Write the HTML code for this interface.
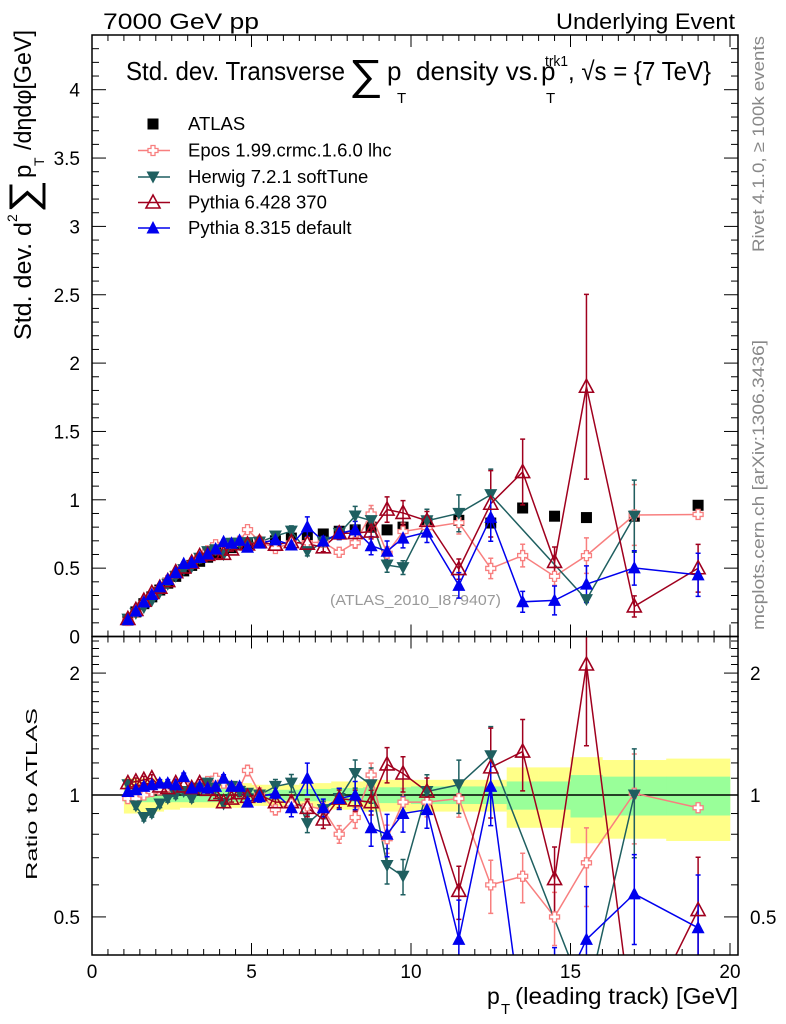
<!DOCTYPE html>
<html><head><meta charset="utf-8"><style>
html,body{margin:0;padding:0;background:#fff;width:786px;height:1024px;overflow:hidden;}
svg{display:block;font-family:"Liberation Sans",Arial,sans-serif;}
</style></head><body>
<svg id="c" width="786" height="1024" viewBox="0 0 786 1024" xmlns="http://www.w3.org/2000/svg">
<defs>
<clipPath id="clipMain"><rect x="92" y="35" width="646" height="601"/></clipPath>
<clipPath id="clipRatio"><rect x="92" y="636" width="646" height="319"/></clipPath>
</defs>
<text x="103" y="29" font-size="22" textLength="156" lengthAdjust="spacingAndGlyphs">7000 GeV pp</text>
<text x="556" y="29" font-size="22" textLength="179" lengthAdjust="spacingAndGlyphs">Underlying Event</text>
<g font-size="26">
<text x="126" y="80" textLength="219" lengthAdjust="spacingAndGlyphs">Std. dev. Transverse</text>
<text x="349" y="89" font-size="42" textLength="34" lengthAdjust="spacingAndGlyphs">∑</text>
<text x="387" y="80">p</text>
<text x="397" y="103" font-size="15">T</text>
<text x="416" y="80" textLength="123" lengthAdjust="spacingAndGlyphs">density vs.</text>
<text x="541" y="80">p</text>
<text x="546" y="103" font-size="15">T</text>
<text x="545" y="66" font-size="15" textLength="23" lengthAdjust="spacingAndGlyphs">trk1</text>
<text x="568" y="80" textLength="143" lengthAdjust="spacingAndGlyphs">, √s = {7 TeV}</text>
</g>
<g font-size="24">
<text transform="translate(31,340) rotate(-90)" textLength="118" lengthAdjust="spacingAndGlyphs">Std. dev. d</text>
<text transform="translate(17,222) rotate(-90)" font-size="14">2</text>
<text transform="translate(37,213) rotate(-90)" font-size="40" textLength="33" lengthAdjust="spacingAndGlyphs">∑</text>
<text transform="translate(31,178) rotate(-90)">p</text>
<text transform="translate(44,166) rotate(-90)" font-size="14">T</text>
<text transform="translate(31,150) rotate(-90)" textLength="120" lengthAdjust="spacingAndGlyphs">/dηdφ[GeV]</text>
</g>
<text transform="translate(37,880) rotate(-90)" font-size="16" textLength="172" lengthAdjust="spacingAndGlyphs">Ratio to ATLAS</text>
<text transform="translate(764,252) rotate(-90)" font-size="17" fill="#888" textLength="216" lengthAdjust="spacingAndGlyphs">Rivet 4.1.0, ≥ 100k events</text>
<text transform="translate(764,630) rotate(-90)" font-size="17" fill="#888" textLength="290" lengthAdjust="spacingAndGlyphs">mcplots.cern.ch [arXiv:1306.3436]</text>
<text x="330" y="605" font-size="15" fill="#999" textLength="171" lengthAdjust="spacingAndGlyphs">(ATLAS_2010_I879407)</text>
<g font-size="23">
<text x="487" y="1004">p</text>
<text x="501" y="1014" font-size="15">T</text>
<text x="515" y="1004" textLength="223" lengthAdjust="spacingAndGlyphs">(leading track) [GeV]</text>
</g>
<g id="axes"></g>
<g id="bands" clip-path="url(#clipRatio)"></g>
<g id="mainSeries" clip-path="url(#clipMain)"></g>
<g id="ratioSeries" clip-path="url(#clipRatio)"></g>
<g id="frames"></g>
<g id="legend"></g>
</svg>
<script>
const edges = [1,1.25,1.5,1.75,2,2.25,2.5,2.75,3,3.25,3.5,3.75,4,4.25,4.5,4.75,5,5.5,6,6.5,7,7.5,8,8.5,9,9.5,10,11,12,13,14,15,16,18,20];
const atlas = [0.12,0.18,0.24,0.29,0.34,0.39,0.44,0.48,0.52,0.55,0.58,0.61,0.63,0.65,0.67,0.68, 0.69,0.70,0.72,0.73,0.75,0.77,0.78,0.80,0.78,0.80, 0.83,0.85,0.83,0.94,0.88,0.87,0.88,0.96];
const yellowErr = [0.1,0.1,0.1,0.1,0.09,0.08,0.08,0.07,0.07,0.07,0.07,0.07,0.07,0.07,0.07,0.07, 0.06,0.06,0.06,0.07,0.07,0.08,0.08,0.09,0.09,0.09, 0.09,0.09,0.09,0.17,0.17,0.24,0.22,0.23];
const greenErr = [0.04,0.04,0.04,0.04,0.04,0.04,0.04,0.04,0.04,0.04,0.04,0.04,0.04,0.04,0.04,0.04, 0.03,0.03,0.03,0.035,0.035,0.04,0.04,0.045,0.045,0.045, 0.05,0.05,0.05,0.08,0.08,0.12,0.11,0.11];
const eposRatio = [0.98,0.98,1.0,1.02,1.03,1.05,1.05,1.06,1.03,1.05,1.08,1.1,1.07,1.05,1.04,1.15, 1.01,0.92,0.95,0.94,0.92,0.8,0.88,1.12,0.78,0.96, 0.96,0.98,0.6,0.63,0.5,0.68,1.01,0.93];
const herwigRatio = [1.06,0.94,0.88,0.9,0.95,0.98,1.0,1.02,0.98,1.04,1.07,1.04,0.95,1.05,1.02,1.01, 1.0,1.05,1.07,0.85,0.92,0.98,1.13,1.06,0.67,0.63, 1.02,1.06,1.25,null,null,0.31,1.0,null];
const py6Ratio = [1.07,1.08,1.09,1.1,1.05,1.04,1.07,1.05,1.04,1.07,1.03,1.0,0.96,0.98,1.01,0.99, 1.0,0.96,0.96,0.93,0.87,0.98,0.97,0.96,1.19,1.13, 1.02,0.58,1.17,1.28,0.62,2.1,0.25,0.52];
const py8Ratio = [1.02,1.03,1.05,1.06,1.07,1.07,1.06,1.11,1.04,1.05,1.04,1.05,1.1,1.05,1.05,0.96, 0.99,1.01,0.93,1.1,0.93,0.98,1.0,0.83,0.8,0.9, 0.92,0.44,1.05,0.27,0.3,0.44,0.57,0.47];
const eposErr = [0.02,0.02,0.02,0.02,0.02,0.02,0.02,0.02,0.02,0.02,0.02,0.02,0.02,0.02,0.02,0.03, 0.03,0.03,0.04,0.04,0.04,0.05,0.06,0.07,0.08,0.08, 0.08,0.1,0.15,0.14,0.15,0.22,0.25,0.02];
const herwigErr = [0.02,0.02,0.02,0.02,0.02,0.02,0.02,0.02,0.02,0.02,0.02,0.02,0.02,0.02,0.02,0.02, 0.03,0.04,0.05,0.05,0.05,0.06,0.08,0.1,0.1,0.1, 0.1,0.15,0.18,0,0,0.05,0.3,0];
const py6Err = [0.02,0.02,0.02,0.02,0.02,0.02,0.02,0.02,0.02,0.02,0.02,0.02,0.02,0.02,0.02,0.02, 0.03,0.03,0.04,0.05,0.05,0.05,0.06,0.07,0.1,0.1, 0.08,0.15,0.25,0.2,0.2,0.37,0.35,0.35];
const py8Err = [0.02,0.02,0.02,0.02,0.02,0.02,0.02,0.02,0.02,0.02,0.02,0.02,0.02,0.02,0.02,0.02, 0.03,0.03,0.05,0.09,0.05,0.06,0.08,0.1,0.12,0.1, 0.1,0.25,0.2,0.3,0.4,0.35,0.25,0.35];
const seriesNames = ["Epos 1.99.crmc.1.6.0 lhc","Herwig 7.2.1 softTune","Pythia 6.428 370","Pythia 8.315 default"];
const xTickLabels = [0,5,10,15,20];
const yTickLabels = [0,0.5,1,1.5,2,2.5,3,3.5,4];
const ratioTickLabels = [0.5,1,2];

const NS="http://www.w3.org/2000/svg";
const X = v => 92 + v*31.9;
const Y = v => 636.5 - v*136.7;
const R = r => 795 - 405*Math.log10(r);
function mk(parent, tag, attrs){const e=document.createElementNS(NS,tag);for(const k in attrs)e.setAttribute(k,attrs[k]);parent.appendChild(e);return e;}
const axes=document.getElementById('axes'), frames=document.getElementById('frames');
const centers = atlas.map((_,i)=>(edges[i]+edges[i+1])/2);

let f1=mk(frames,'rect',{x:92,y:35,width:646,height:601.5,fill:'none',stroke:'#000','stroke-width':1.5});


let f2=mk(frames,'rect',{x:92,y:636.5,width:646,height:318.5,fill:'none',stroke:'#000','stroke-width':1.5});



for(let v=0; v<=20.01; v+=0.5){
  const major = Math.abs(v%5)<1e-6; const L = major?12:6;
  const x=X(v);
  [[636.5,-1],[35,1],[955,-1],[636.5,1]].forEach(([y0,d])=>{
    const t=mk(axes,'line',{x1:x,x2:x,y1:y0,y2:y0+d*L,stroke:'#000','stroke-width':1});
    
    
  });
}
xTickLabels.forEach(v=>{
  const t=mk(axes,'text',{x:X(v),y:978,'font-size':19,'text-anchor':'middle'});
  t.textContent=v;
  
  
});
for(let i=0;i<=44;i++){
  const v=i/10; const major=i%5===0; const L=major?14:7; const y=Y(v);
  [[92,1],[738,-1]].forEach(([x0,d])=>{
    const t=mk(axes,'line',{x1:x0,x2:x0+d*L,y1:y,y2:y,stroke:'#000','stroke-width':1});
    
    
  });
}
yTickLabels.forEach(v=>{
  const t=mk(axes,'text',{x:80,y:Y(v)+7,'font-size':19,'text-anchor':'end'});
  t.textContent=v;
  
  
});
for(let i=4;i<=24;i++){
  const r=i/10; const major=(i===5||i===10||i===20); const L=major?14:7; const y=R(r);
  if(y<637||y>955) continue;
  [[92,1],[738,-1]].forEach(([x0,d])=>{
    const t=mk(axes,'line',{x1:x0,x2:x0+d*L,y1:y,y2:y,stroke:'#000','stroke-width':1});
    
    
  });
}
ratioTickLabels.forEach(r=>{
  const t=mk(axes,'text',{x:80,y:R(r)+7,'font-size':19,'text-anchor':'end'});
  t.textContent=r;
  
  
  const t2=mk(axes,'text',{x:750,y:R(r)+7,'font-size':19,'text-anchor':'start'});
  t2.textContent=r;
  
  
});

const bands=document.getElementById('bands');
atlas.forEach((_,i)=>{
  const x0=X(edges[i]), x1=X(edges[i+1]);
  const b=mk(bands,'rect',{x:x0,y:R(1+yellowErr[i]),width:x1-x0+0.3,height:R(1-yellowErr[i])-R(1+yellowErr[i]),fill:'#ffff88'});
  
  
});
atlas.forEach((_,i)=>{
  const x0=X(edges[i]), x1=X(edges[i+1]);
  const b=mk(bands,'rect',{x:x0,y:R(1+greenErr[i]),width:x1-x0+0.3,height:R(1-greenErr[i])-R(1+greenErr[i]),fill:'#99ff99'});
  
  
});
let ul=mk(bands,'line',{x1:92,x2:738,y1:R(1),y2:R(1),stroke:'#000','stroke-width':1.5});



function marker(g,type,x,y,color,name){
  let e;
  if(type==='square') e=mk(g,'rect',{x:x-5.5,y:y-5.5,width:11,height:11,fill:'#000'});
  else if(type==='cross'){const a=2,b=5;e=mk(g,'path',{d:`M${x-a},${y-b}h${2*a}v${b-a}h${b-a}v${2*a}h${-(b-a)}v${b-a}h${-2*a}v${-(b-a)}h${-(b-a)}v${-2*a}h${b-a}z`,fill:'#fff',stroke:color,'stroke-width':1.3});}
  else if(type==='down') e=mk(g,'path',{d:`M${x-6.5},${y-5.5}L${x+6.5},${y-5.5}L${x},${y+6.5}z`,fill:color});
  else if(type==='upOpen') e=mk(g,'path',{d:`M${x-7},${y+5.5}L${x+7},${y+5.5}L${x},${y-7.5}z`,fill:'none',stroke:color,'stroke-width':1.6});
  else e=mk(g,'path',{d:`M${x-6.5},${y+5.5}L${x+6.5},${y+5.5}L${x},${y-7}z`,fill:color});
  
  
}
const series=[
  {name:seriesNames[0],ratio:eposRatio,err:eposErr,color:'#f87f7f',type:'cross',id:'epos'},
  {name:seriesNames[1],ratio:herwigRatio,err:herwigErr,color:'#1f5f60',type:'down',id:'herwig'},
  {name:seriesNames[2],ratio:py6Ratio,err:py6Err,color:'#a0001e',type:'upOpen',id:'pythia6'},
  {name:seriesNames[3],ratio:py8Ratio,err:py8Err,color:'#0000ee',type:'up',id:'pythia8'}
];
const gm=document.getElementById('mainSeries'), gr=document.getElementById('ratioSeries');
atlas.forEach((v,i)=>marker(gm,'square',X(centers[i]),Y(v),'#000','atlas-point'));
series.forEach(s=>{
  [[gm,(i,r)=>Y(r*atlas[i])],[gr,(i,r)=>R(r)]].forEach(([g,fy])=>{
    const pts=[];
    s.ratio.forEach((r,i)=>{ if(r!==null) pts.push([X(centers[i]),fy(i,r)]); });
    const l=mk(g,'polyline',{points:pts.map(p=>p.join(',')).join(' '),fill:'none',stroke:s.color,'stroke-width':1.5});
    
    
    s.ratio.forEach((r,i)=>{
      if(r===null) return;
      const x=X(centers[i]); const e=s.err[i]*r;
      if(e>0){
        const y1=fy(i,r+e), y2=fy(i,Math.max(r-e,0.01));
        const eb=mk(g,'path',{d:`M${x},${y1}V${y2}M${x-2.5},${y1}h5M${x-2.5},${y2}h5`,stroke:s.color,'stroke-width':1.5,fill:'none'});
        
        
      }
    });
  });
});
series.forEach(s=>{
  s.ratio.forEach((r,i)=>{
    if(r===null) return;
    marker(gm,s.type,X(centers[i]),Y(r*atlas[i]),s.color,s.id+'-point');
    marker(gr,s.type,X(centers[i]),R(r),s.color,s.id+'-ratio-point');
  });
});
const lg=document.getElementById('legend');
const rows=[124,150.5,177,202.5,228];
marker(lg,'square',153,rows[0],'#000','legend-atlas-marker');
let lt=mk(lg,'text',{x:188,y:rows[0]+6,'font-size':18.5});
lt.textContent='ATLAS';


series.forEach((s,k)=>{
  const y=rows[k+1];
  const l=mk(lg,'line',{x1:138,x2:170,y1:y,y2:y,stroke:s.color,'stroke-width':1.5});
  
  
  marker(lg,s.type,153,y,s.color,'legend-marker');
  const t=mk(lg,'text',{x:188,y:y+6,'font-size':18.5});
  t.textContent=s.name;
  
  
});
</script>
</body></html>
